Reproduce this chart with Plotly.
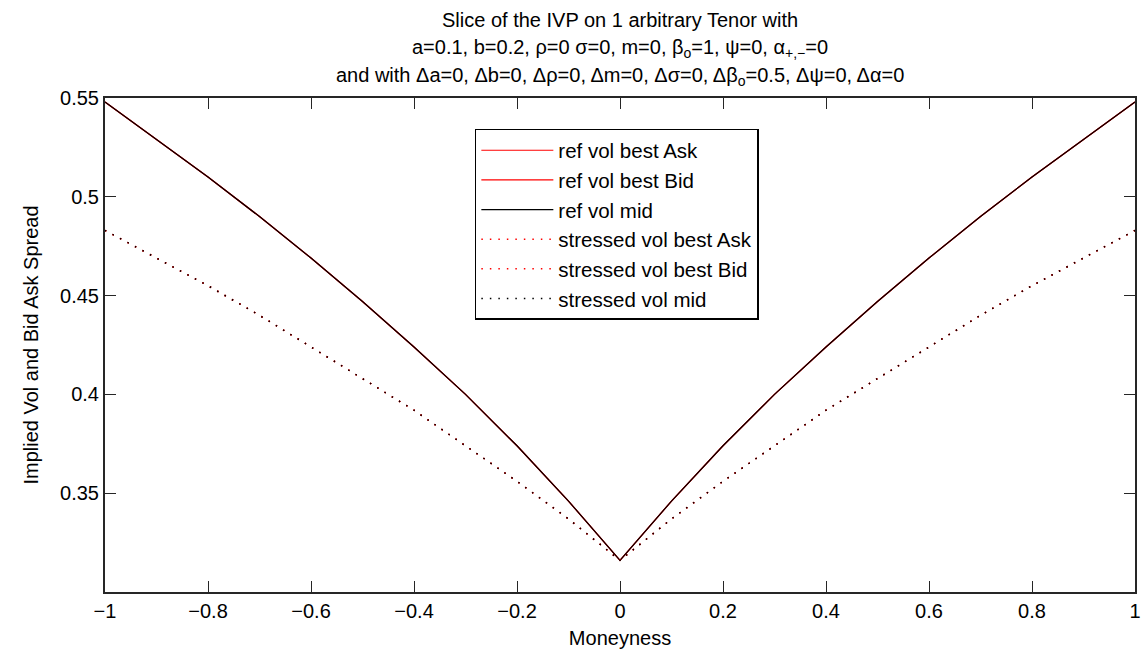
import plotly.graph_objects as go

# Moneyness grid
moneyness = [-1.0, -0.9, -0.8, -0.7, -0.6, -0.5, -0.4, -0.3, -0.2, -0.1, 0.0,
             0.1, 0.2, 0.3, 0.4, 0.5, 0.6, 0.7, 0.8, 0.9, 1.0]

# Reference implied vol (ask / bid / mid coincide: zero spread)
ref_ask = [0.548, 0.529, 0.510, 0.490, 0.469, 0.447, 0.424, 0.400, 0.374, 0.346, 0.316,
           0.346, 0.374, 0.400, 0.424, 0.447, 0.469, 0.490, 0.510, 0.529, 0.548]
ref_bid = [0.548, 0.529, 0.510, 0.490, 0.469, 0.447, 0.424, 0.400, 0.374, 0.346, 0.316,
           0.346, 0.374, 0.400, 0.424, 0.447, 0.469, 0.490, 0.510, 0.529, 0.548]
ref_mid = [0.548, 0.529, 0.510, 0.490, 0.469, 0.447, 0.424, 0.400, 0.374, 0.346, 0.316,
           0.346, 0.374, 0.400, 0.424, 0.447, 0.469, 0.490, 0.510, 0.529, 0.548]

# Stressed implied vol (delta beta = 0.5)
stress_ask = [0.483, 0.469, 0.455, 0.440, 0.424, 0.408, 0.392, 0.374, 0.356, 0.337, 0.316,
              0.337, 0.356, 0.374, 0.392, 0.408, 0.424, 0.440, 0.455, 0.469, 0.483]
stress_bid = [0.483, 0.469, 0.455, 0.440, 0.424, 0.408, 0.392, 0.374, 0.356, 0.337, 0.316,
              0.337, 0.356, 0.374, 0.392, 0.408, 0.424, 0.440, 0.455, 0.469, 0.483]
stress_mid = [0.483, 0.469, 0.455, 0.440, 0.424, 0.408, 0.392, 0.374, 0.356, 0.337, 0.316,
              0.337, 0.356, 0.374, 0.392, 0.408, 0.424, 0.440, 0.455, 0.469, 0.483]

x_ticks = [-1, -0.8, -0.6, -0.4, -0.2, 0, 0.2, 0.4, 0.6, 0.8, 1]
x_ticktext = ["\u22121", "\u22120.8", "\u22120.6", "\u22120.4", "\u22120.2", "0",
              "0.2", "0.4", "0.6", "0.8", "1"]
y_ticks = [0.35, 0.4, 0.45, 0.5, 0.55]
y_ticktext = ["0.35", "0.4", "0.45", "0.5", "0.55"]

title_lines = [
    "Slice of the IVP on 1 arbitrary Tenor with",
    "a=0.1, b=0.2, \u03c1=0 \u03c3=0, m=0, \u03b2<sub>o</sub>=1, \u03c8=0, \u03b1<sub>+,\u2212</sub>=0",
    "and with \u0394a=0, \u0394b=0, \u0394\u03c1=0, \u0394m=0, \u0394\u03c3=0, "
    "\u0394\u03b2<sub>o</sub>=0.5, \u0394\u03c8=0, \u0394\u03b1=0",
]

FONT = "Liberation Sans, Arial, Helvetica, sans-serif"
TXT = "#262626"
RED = "#ff0000"
BLACK = "#000000"
DOTS = "1.5px,7px"

fig = go.Figure()
series = [
    ("ref vol best Ask", ref_ask, RED, "solid", 1.2),
    ("ref vol best Bid", ref_bid, RED, "solid", 1.2),
    ("ref vol mid", ref_mid, BLACK, "solid", 1.2),
    ("stressed vol best Ask", stress_ask, RED, DOTS, 1.5),
    ("stressed vol best Bid", stress_bid, RED, DOTS, 1.5),
    ("stressed vol mid", stress_mid, BLACK, DOTS, 1.5),
]
for name, vals, col, dash, w in series:
    fig.add_trace(go.Scatter(
        x=moneyness, y=vals, name=name, mode="lines",
        line=dict(color=col, width=w, dash=dash),
    ))

W, H = 1146, 651
L, R, T, B = 105, 5, 98, 58
plot_h = H - T - B

for i, line in enumerate(title_lines):
    y_px = 20 + 28 * i
    fig.add_annotation(
        text=line, xref="paper", yref="paper",
        x=0.5, y=1 + (T - y_px) / plot_h,
        xanchor="center", yanchor="middle", showarrow=False,
        font=dict(family=FONT, size=20, color=BLACK),
    )

axis_common = dict(
    showline=True, linecolor=TXT, linewidth=2, mirror="ticks",
    ticks="inside", ticklen=11, tickwidth=1, tickcolor=TXT,
    showgrid=False, zeroline=False,
    tickfont=dict(family=FONT, size=20, color=BLACK),
)

fig.update_layout(
    width=W, height=H,
    margin=dict(l=L, r=R, t=T, b=B),
    paper_bgcolor="white", plot_bgcolor="white",
    font=dict(family=FONT, size=20, color=BLACK),
    xaxis=dict(range=[-1, 1], tickvals=x_ticks, ticktext=x_ticktext,
               title=dict(text="Moneyness", font=dict(family=FONT, size=20), standoff=10),
               **axis_common),
    yaxis=dict(range=[0.30, 0.55], tickvals=y_ticks, ticktext=y_ticktext,
               title=dict(text="Implied Vol and Bid Ask Spread", font=dict(family=FONT, size=20), standoff=16),
               **axis_common),
    legend=dict(
        x=(477 - L) / (W - L - R), y=(H - B - 129) / plot_h,
        xanchor="left", yanchor="top",
        bgcolor="white", bordercolor=BLACK, borderwidth=1.5,
        font=dict(family=FONT, size=20.5, color=BLACK),
        tracegroupgap=0, itemwidth=72,
    ),
    showlegend=True,
)

fig.write_html("out.html")
